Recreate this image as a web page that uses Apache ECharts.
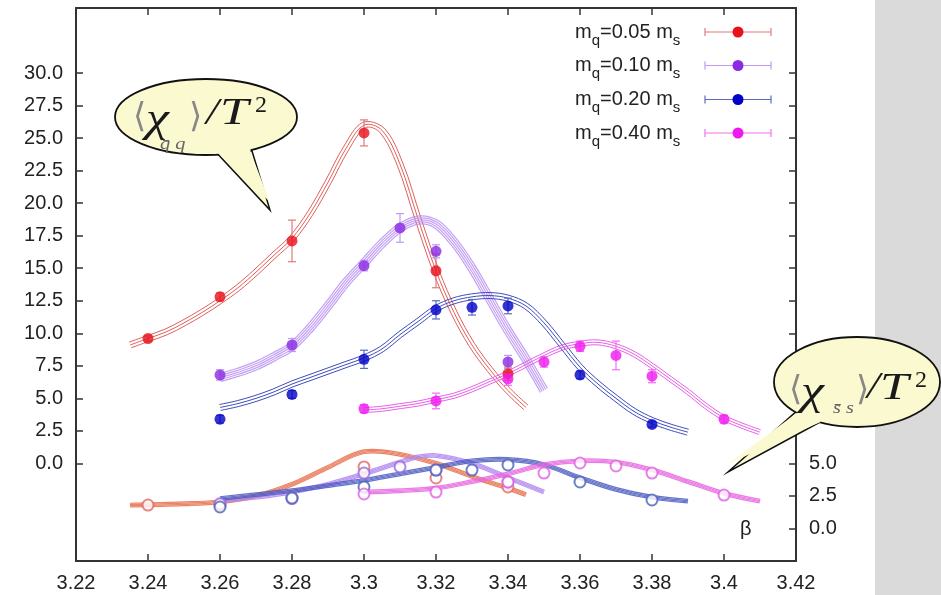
<!DOCTYPE html>
<html><head><meta charset="utf-8">
<script src="https://cdn.jsdelivr.net/npm/echarts@6/dist/echarts.min.js"></script>
<style>html,body{margin:0;padding:0;background:#fff}#c{width:941px;height:595px}</style>
</head><body><div id="c"></div>
<script>
// ---------- data: <chi_qq>/T^2 (left axis), filled points ----------
const betaRed = [3.24, 3.26, 3.28, 3.30, 3.32, 3.34];
const chiRed  = [9.6, 12.8, 17.1, 25.4, 14.8, 6.9];
const errRed  = [0.2, 0.3, 1.6, 1.0, 1.3, 0.5];

const betaPur = [3.26, 3.28, 3.30, 3.31, 3.32, 3.34];
const chiPur  = [6.8, 9.1, 15.2, 18.1, 16.3, 7.8];
const errPur  = [0.4, 0.5, 0.4, 1.1, 0.5, 0.5];

const betaBlu = [3.26, 3.28, 3.30, 3.32, 3.33, 3.34, 3.36, 3.38];
const chiBlu  = [3.4, 5.3, 8.0, 11.8, 12.0, 12.1, 6.8, 3.0];
const errBlu  = [0.3, 0.3, 0.7, 0.7, 0.6, 0.6, 0.3, 0.2];

const betaMag = [3.30, 3.32, 3.34, 3.35, 3.36, 3.37, 3.38, 3.40];
const chiMag  = [4.2, 4.8, 6.5, 7.8, 9.0, 8.3, 6.7, 3.4];
const errMag  = [0.3, 0.6, 0.5, 0.4, 0.4, 1.1, 0.5, 0.3];

// ---------- fit curves (left axis) ----------
const fitBetaRed = [3.235,3.24,3.245,3.25,3.255,3.26,3.265,3.27,3.275,3.28,3.285,3.29,3.295,3.30,3.305,3.31,3.315,3.32,3.325,3.33,3.335,3.34,3.345];
const fitRed     = [9.1,9.6,10.1,10.8,11.6,12.5,13.5,14.7,16.0,17.3,19.2,21.6,24.2,26.0,25.6,23.0,18.8,14.8,11.6,9.1,7.2,5.6,4.3];
const fitBetaPur = [3.26,3.265,3.27,3.275,3.28,3.285,3.29,3.295,3.30,3.305,3.31,3.315,3.32,3.325,3.33,3.335,3.34,3.345,3.35];
const fitPur     = [6.6,7.0,7.5,8.2,9.0,10.4,12.1,13.9,15.4,16.9,18.1,18.7,18.4,17.0,15.0,12.6,10.2,8.0,5.6];
const fitBetaBlu = [3.26,3.265,3.27,3.275,3.28,3.285,3.29,3.295,3.30,3.305,3.31,3.315,3.32,3.325,3.33,3.335,3.34,3.345,3.35,3.355,3.36,3.365,3.37,3.375,3.38,3.385,3.39];
const fitBlu     = [4.3,4.6,5.0,5.5,6.1,6.6,7.1,7.6,8.1,8.8,9.9,10.9,11.9,12.5,12.8,12.9,12.7,12.1,10.8,9.1,7.4,6.1,5.0,4.0,3.3,2.8,2.4];
const fitBetaMag = [3.30,3.305,3.31,3.315,3.32,3.325,3.33,3.335,3.34,3.345,3.35,3.355,3.36,3.365,3.37,3.375,3.38,3.385,3.39,3.395,3.40,3.405,3.41];
const fitMag     = [4.1,4.2,4.4,4.6,4.9,5.2,5.7,6.3,6.9,7.6,8.3,8.9,9.2,9.3,9.0,8.4,7.5,6.5,5.5,4.4,3.5,2.9,2.4];

// ---------- <chi_ss>/T^2 (right axis), open points ----------
const sBetaRed = [3.24, 3.26, 3.28, 3.30, 3.32, 3.34];
const sChiRed  = [1.80, 1.80, 2.34, 4.73, 3.88, 3.19];
const sBetaPur = [3.26, 3.28, 3.30, 3.31, 3.32, 3.34];
const sChiPur  = [1.9, 2.3, 4.26, 4.73, 4.49, 3.57];
const sBetaBlu = [3.26, 3.28, 3.30, 3.32, 3.33, 3.34, 3.36, 3.38];
const sChiBlu  = [1.65, 2.34, 3.19, 4.49, 4.49, 4.88, 3.57, 2.19];
const sBetaMag = [3.30, 3.32, 3.34, 3.35, 3.36, 3.37, 3.38, 3.40];
const sChiMag  = [2.65, 2.80, 3.57, 4.26, 5.03, 4.80, 4.26, 2.57];

const sFitBetaRed = [3.235,3.25,3.26,3.27,3.28,3.29,3.30,3.31,3.32,3.33,3.34,3.345];
const sFitRed     = [1.8,1.9,2.05,2.5,3.4,4.7,5.9,5.7,5.0,4.0,3.1,2.6];
const sFitBetaPur = [3.26,3.27,3.28,3.29,3.30,3.31,3.315,3.32,3.33,3.34,3.35];
const sFitPur     = [2.1,2.4,2.8,3.4,4.2,5.1,5.5,5.6,5.0,3.9,2.8];
const sFitBetaBlu = [3.26,3.27,3.28,3.29,3.30,3.31,3.32,3.33,3.34,3.35,3.36,3.37,3.38,3.39];
const sFitBlu     = [2.3,2.6,2.9,3.3,3.7,4.2,4.7,5.2,5.3,4.9,3.9,3.0,2.4,2.1];
const sFitBetaMag = [3.30,3.31,3.32,3.33,3.34,3.35,3.36,3.37,3.38,3.39,3.40,3.41];
const sFitMag     = [2.8,2.9,3.1,3.6,4.2,4.9,5.2,5.1,4.5,3.6,2.7,2.1];

const legendMass = ['0.05', '0.10', '0.20', '0.40'];
const leftTicks  = [0,2.5,5,7.5,10,12.5,15,17.5,20,22.5,25,27.5,30];
const rightLabels = [0,2.5,5];
const rightTicks = [0,2.5,5,7.5,10,12.5,15,17.5,20,22.5,25,27.5,30,32.5,35];

// ---------- styles ----------
const C = {
  red: {pt:'#e8101a', fit:'#e0605a', err:'#e07878', open:'#e06868', sfit:'#e8704e'},
  pur: {pt:'#8a2be2', fit:'#b58af2', err:'#c09af0', open:'#9a68e0', sfit:'#b086f0'},
  blu: {pt:'#0000c8', fit:'#3e4cbc', err:'#5a6cc0', open:'#4a62b8', sfit:'#4c5cc2'},
  mag: {pt:'#f018f0', fit:'#e860e8', err:'#f070f0', open:'#e060e0', sfit:'#e866e2'}
};

function zip(xs, ys, es) { return xs.map((x,i)=> es ? [x, ys[i], es[i]] : [x, ys[i]]); }

function bandSeries(xs, ys, color, yAxisIndex, offsets, width, opacity) {
  const data = zip(xs, ys);
  return {
    type:'custom', xAxisIndex:0, yAxisIndex, silent:true, z:2, data,
    renderItem(params, api) {
      if (params.dataIndex !== 0) return null;
      const pts = data.map(d => api.coord(d));
      const n = pts.length;
      const children = offsets.map(o => {
        const sh = pts.map((p,i) => {
          const a = pts[Math.max(0,i-1)], b = pts[Math.min(n-1,i+1)];
          const dx = b[0]-a[0], dy = b[1]-a[1]; const L = Math.hypot(dx,dy)||1;
          return [p[0] - dy/L*o, p[1] + dx/L*o];
        });
        return {type:'polyline', shape:{points:sh, smooth:0.35}, style:{stroke:color, lineWidth:width, fill:null, opacity}};
      });
      return {type:'group', children};
    }
  };
}

function errSeries(xs, ys, es, color, yAxisIndex) {
  return {
    type:'custom', xAxisIndex:0, yAxisIndex, silent:true, z:3, data: zip(xs, ys, es),
    renderItem(params, api) {
      const x = api.value(0), y = api.value(1), e = api.value(2);
      const a = api.coord([x, y+e]), b = api.coord([x, y-e]);
      const st = {stroke:color, lineWidth:1.2};
      return {type:'group', children:[
        {type:'line', shape:{x1:a[0], y1:a[1], x2:b[0], y2:b[1]}, style:st},
        {type:'line', shape:{x1:a[0]-4, y1:a[1], x2:a[0]+4, y2:a[1]}, style:st},
        {type:'line', shape:{x1:b[0]-4, y1:b[1], x2:b[0]+4, y2:b[1]}, style:st}
      ]};
    }
  };
}

function ptSeries(xs, ys, color) {
  return {type:'scatter', xAxisIndex:0, yAxisIndex:0, z:4, symbol:'circle', symbolSize:11,
    itemStyle:{color}, data: zip(xs, ys)};
}
function openSeries(xs, ys, color) {
  return {type:'scatter', xAxisIndex:0, yAxisIndex:1, z:4, symbol:'emptyCircle', symbolSize:11,
    itemStyle:{color, borderWidth:1.2}, data: zip(xs, ys)};
}

const series = [
  bandSeries(sFitBetaRed, sFitRed, C.red.sfit, 1, [-1.8,-0.6,0.6,1.8], 1.2, 0.85),
  bandSeries(sFitBetaPur, sFitPur, C.pur.sfit, 1, [-1.8,-0.6,0.6,1.8], 1.2, 0.85),
  bandSeries(sFitBetaBlu, sFitBlu, C.blu.sfit, 1, [-1.8,-0.6,0.6,1.8], 1.2, 0.85),
  bandSeries(sFitBetaMag, sFitMag, C.mag.sfit, 1, [-1.8,-0.6,0.6,1.8], 1.2, 0.85),
  openSeries(sBetaRed, sChiRed, C.red.open),
  openSeries(sBetaPur, sChiPur, C.pur.open),
  openSeries(sBetaBlu, sChiBlu, C.blu.open),
  openSeries(sBetaMag, sChiMag, C.mag.open),
  bandSeries(fitBetaRed, fitRed, C.red.fit, 0, [-3,0,3], 1, 1),
  bandSeries(fitBetaPur, fitPur, C.pur.fit, 0, [-4,-2,0,2,4], 1.2, 0.8),
  bandSeries(fitBetaBlu, fitBlu, C.blu.fit, 0, [-3,0,3], 1, 1),
  bandSeries(fitBetaMag, fitMag, C.mag.fit, 0, [-2.5,0,2.5], 1, 1),
  errSeries(betaRed, chiRed, errRed, C.red.err, 0),
  errSeries(betaPur, chiPur, errPur, C.pur.err, 0),
  errSeries(betaBlu, chiBlu, errBlu, C.blu.err, 0),
  errSeries(betaMag, chiMag, errMag, C.mag.err, 0),
  ptSeries(betaRed, chiRed, C.red.pt),
  ptSeries(betaPur, chiPur, C.pur.pt),
  ptSeries(betaBlu, chiBlu, C.blu.pt),
  ptSeries(betaMag, chiMag, C.mag.pt)
];

const axisLine = {show:true, onZero:false, lineStyle:{color:'#333', width:2}};
const tick = {show:true, inside:true, length:7, lineStyle:{color:'#333', width:1.5}};
const lblFont = {fontFamily:'"Liberation Sans", Arial, sans-serif', fontSize:20, color:'#222'};

// ---------- graphics: legend, callouts, panel ----------
const serif = '"Liberation Serif", "Times New Roman", serif';
const graphics = [];
graphics.push({type:'rect', z:50, shape:{x:875, y:0, width:66, height:595}, style:{fill:'#dadada'}});

const legColors = [C.red, C.pur, C.blu, C.mag];
const legY = [32, 65.5, 99.5, 133];
legendMass.forEach((m, i) => {
  const y = legY[i], col = legColors[i];
  graphics.push({type:'text', z:60, x:575, y:y, style:{
    text:'m{s|q}=' + m + ' m{s|s}', font:'20px "Liberation Sans", Arial, sans-serif', fill:'#222',
    verticalAlign:'middle', align:'left',
    rich:{s:{fontSize:15, fontFamily:'"Liberation Sans", Arial, sans-serif', fill:'#222', verticalAlign:'bottom', lineHeight:32}}
  }});
  graphics.push({type:'line', z:60, shape:{x1:705, y1:y, x2:771, y2:y}, style:{stroke:col.err, lineWidth:1.2}});
  graphics.push({type:'line', z:60, shape:{x1:705, y1:y-4, x2:705, y2:y+4}, style:{stroke:col.err, lineWidth:1.2}});
  graphics.push({type:'line', z:60, shape:{x1:771, y1:y-4, x2:771, y2:y+4}, style:{stroke:col.err, lineWidth:1.2}});
  graphics.push({type:'circle', z:61, shape:{cx:738, cy:y, r:5.5}, style:{fill:col.pt}});
});

function bubble(ell, tail, parts) {
  const fill = '#fbf9cf', stroke = '#111';
  graphics.push({type:'polygon', z:70, shape:{points:tail}, style:{fill, stroke, lineWidth:1.5}});
  graphics.push({type:'ellipse', z:71, shape:ell, style:{fill, stroke, lineWidth:1.8}});
  const t = tail;
  const inner = [[t[0][0]+1.5, t[0][1]-6],[t[1][0]-1.5, t[1][1]-6],[t[1][0]-1.5, t[1][1]+1],[t[2][0], t[2][1]-8],[t[0][0]+1.5, t[0][1]+1]];
  graphics.push({type:'polygon', z:72, shape:{points:inner}, style:{fill}});
  parts.forEach(p => graphics.push({type:'text', z:73, x:p.x, y:p.y, scaleX:p.sx||1, style:{
    text:p.t, fontFamily:p.f||serif, fontSize:p.s, fontStyle:p.it?'italic':'normal', fontWeight:'normal',
    fill:p.c||'#1a1a1a', verticalAlign:'middle', align:'left'}}));
}
const dv = '"DejaVu Sans", sans-serif';
bubble({cx:206, cy:117, rx:91, ry:38}, [[214,150],[252,151],[270,210]], [
  {t:'\u27E8', x:133, y:118, s:34, c:'#888', f:dv},
  {t:'\u03C7', x:146, y:120, s:40, it:true, sx:1.3},
  {t:'q\u0304 q', x:160, y:145, s:17, it:true, c:'#666', sx:1.2},
  {t:'\u27E9', x:189, y:118, s:34, c:'#888', f:dv},
  {t:'/', x:206, y:114, s:38, it:true, sx:1.2},
  {t:'T', x:220, y:114, s:38, it:true, sx:1.35},
  {t:'2', x:255, y:106, s:24}
]);
bubble({cx:857, cy:382, rx:83, ry:45}, [[798,410],[822,421],[728,472]], [
  {t:'\u27E8', x:789, y:391, s:34, c:'#888', f:dv},
  {t:'\u03C7', x:801, y:393, s:40, it:true, sx:1.3},
  {t:'s\u0304 s', x:833, y:409, s:17, it:true, c:'#666', sx:1.2},
  {t:'\u27E9', x:856, y:391, s:34, c:'#888', f:dv},
  {t:'/', x:867, y:388, s:38, it:true, sx:1.2},
  {t:'T', x:880, y:389, s:38, it:true, sx:1.35},
  {t:'2', x:915, y:381, s:24}
]);
graphics.push({type:'text', z:60, x:740, y:529, style:{text:'\u03B2', font:'20px "Liberation Sans", Arial, sans-serif', fill:'#222', verticalAlign:'middle'}});

const option = {
  animation:false,
  backgroundColor:'#fff',
  grid:{left:76, right:145, top:8, bottom:34, containLabel:false},
  xAxis:[
    {type:'value', position:'bottom', min:3.22, max:3.42, interval:0.02,
     axisLine, axisTick:tick, splitLine:{show:false},
     axisLabel:{...lblFont, margin:12, formatter:v => String(+v.toFixed(2))}},
    {type:'value', position:'top', min:3.22, max:3.42, interval:0.02,
     axisLine, axisTick:tick, splitLine:{show:false}, axisLabel:{show:false}}
  ],
  yAxis:[
    {type:'value', position:'left', min:-7.5, max:35, interval:2.5,
     axisLine, axisTick:{...tick, customValues:leftTicks}, splitLine:{show:false},
     axisLabel:{...lblFont, margin:13, customValues:leftTicks, formatter:v => v.toFixed(1)}},
    {type:'value', position:'right', min:-2.5, max:40, interval:2.5,
     axisLine, axisTick:{...tick, customValues:rightTicks}, splitLine:{show:false},
     axisLabel:{...lblFont, margin:13, customValues:rightLabels, formatter:v => v.toFixed(1)}}
  ],
  series,
  graphic: graphics
};
const chart = echarts.init(document.getElementById('c'), null, {renderer:'canvas'});
chart.setOption(option);
</script>
</body></html>
